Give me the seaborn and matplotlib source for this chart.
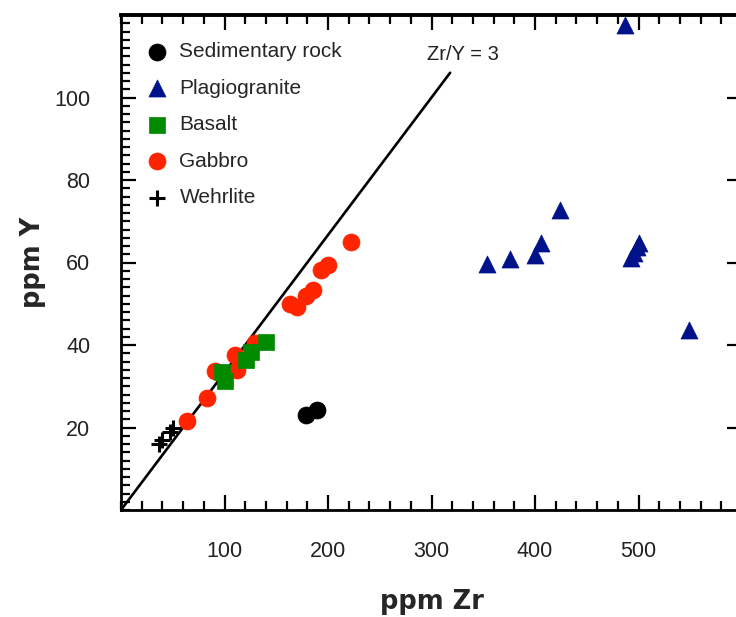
import matplotlib
matplotlib.use('Agg')
import matplotlib.pyplot as plt
from matplotlib.ticker import MultipleLocator
import seaborn as sns
import pandas as pd

# Dados (ppm Zr, ppm Y)
sed_zr = [179, 189]
sed_y = [23.1, 24.3]

plag_zr = [487, 354, 376, 400, 406, 424, 493, 496, 499, 500, 549]
plag_y = [117.5, 59.7, 60.9, 61.7, 64.7, 72.7, 61.0, 62.2, 63.8, 64.8, 43.6]

bas_zr = [140, 126, 121, 97.5, 100.5]
bas_y = [40.8, 38.3, 36.4, 33.5, 31.3]

gab_zr = [63.4, 82.7, 90.7, 110, 111.7, 129.3, 163, 169.6, 179.2, 185.6, 193.7, 200, 222.7]
gab_y = [21.5, 27.2, 33.6, 37.6, 34.0, 40.4, 50.0, 49.2, 52.0, 53.3, 58.1, 59.3, 64.9]

weh_zr = [37, 40, 47, 50]
weh_y = [16, 17, 19, 20]

# Linha Zr/Y = 3
razao = 3
linha_zr = [0, 318]

grupos = [
    ('Sedimentary rock', sed_zr, sed_y, 'o', '#000000', 150),
    ('Plagiogranite', plag_zr, plag_y, '^', '#00128a', 150),
    ('Gabbro', gab_zr, gab_y, 'o', '#ff2400', 150),
    ('Basalt', bas_zr, bas_y, 's', '#008a00', 130),
    ('Wehrlite', weh_zr, weh_y, '+', '#000000', 130),
]
ordem_legenda = ['Sedimentary rock', 'Plagiogranite', 'Basalt', 'Gabbro', 'Wehrlite']

sns.set_style('ticks')
plt.rcParams['font.family'] = ['Liberation Sans', 'DejaVu Sans']

fig = plt.figure(figsize=(7.36, 6.17), dpi=100)
ax = fig.add_axes([121 / 736, 1 - 510 / 617, 621 / 736, 495 / 617])

for nome, zr, y, marcador, cor, tam in grupos:
    df = pd.DataFrame({'Zr': zr, 'Y': y})
    if marcador == '+':
        sns.scatterplot(data=df, x='Zr', y='Y', marker=marcador, color=cor, s=tam,
                        linewidth=2.2, label=nome, ax=ax, zorder=3)
    else:
        sns.scatterplot(data=df, x='Zr', y='Y', marker=marcador, color=cor, s=tam,
                        edgecolor=cor, linewidth=0.5, label=nome, ax=ax, zorder=3)

ax.plot(linha_zr, [v / razao for v in linha_zr], color='black', lw=1.9, zorder=2)
ax.text(296, 110.4, 'Zr/Y = %d' % razao, fontsize=14.5, va='center', ha='left', color='#222222')

ax.set_xlim(0, 600)
ax.set_ylim(0, 120)
ax.set_xticks([100, 200, 300, 400, 500])
ax.set_yticks([20, 40, 60, 80, 100])
ax.xaxis.set_minor_locator(MultipleLocator(20))
ax.yaxis.set_minor_locator(MultipleLocator(2))
ax.tick_params(which='both', direction='in', top=True, right=True, width=1.6, color='black')
ax.tick_params(which='major', length=11, pad=22, labelsize=15.5, labelcolor='#222222')
ax.tick_params(which='minor', length=6.5, right=False)

for lado in ['left', 'bottom', 'top', 'right']:
    ax.spines[lado].set_linewidth(2)
    ax.spines[lado].set_color('black')
ax.spines['top'].set_linewidth(2.8)

ax.set_xlabel('ppm Zr', fontsize=18.5, fontweight='bold', family='DejaVu Sans', labelpad=20)
ax.set_ylabel('ppm Y', fontsize=18.5, fontweight='bold', family='DejaVu Sans', labelpad=6)

handles, labels = ax.get_legend_handles_labels()
mapa = dict(zip(labels, handles))
ax.legend([mapa[n] for n in ordem_legenda], ordem_legenda, loc='upper left',
          bbox_to_anchor=(-0.0065, 0.983), frameon=False, fontsize=15, labelspacing=0.84,
          handletextpad=0.1, borderaxespad=0.5)

plt.savefig('out.png', dpi=100)
